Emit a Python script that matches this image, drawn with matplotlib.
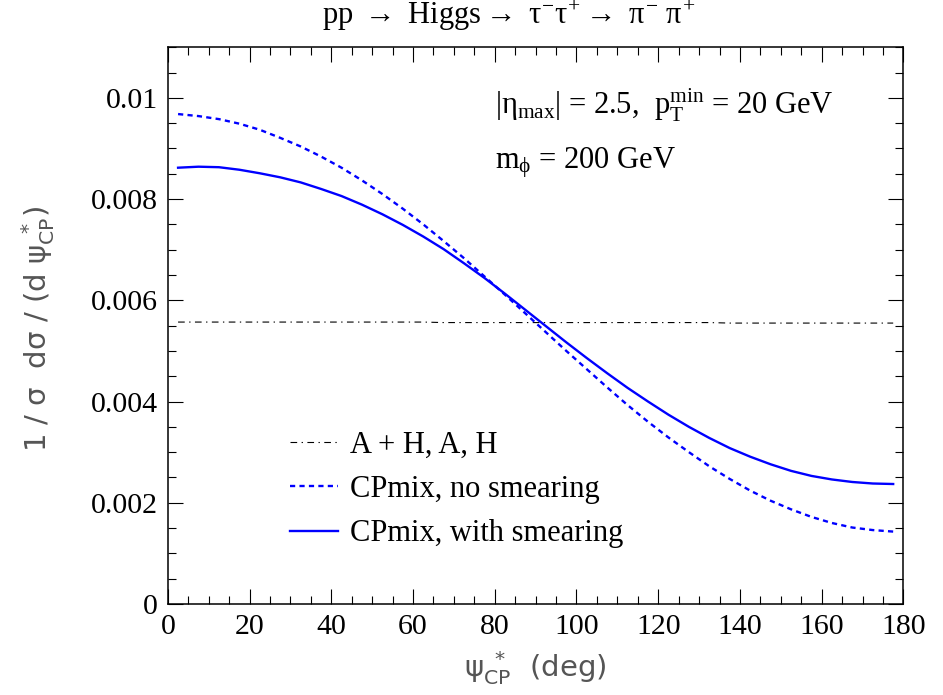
import numpy as np
import matplotlib
matplotlib.use("Agg")
import matplotlib.pyplot as plt
from matplotlib.ticker import MultipleLocator, FixedLocator

plt.rcParams["font.family"] = ["Liberation Serif", "DejaVu Serif"]
plt.rcParams["mathtext.fontset"] = "custom"
plt.rcParams["mathtext.rm"] = "Liberation Serif"
plt.rcParams["mathtext.it"] = "Liberation Serif"
plt.rcParams["mathtext.bf"] = "Liberation Serif:bold"
plt.rcParams["mathtext.fallback"] = "stix"

# bin centres (deg)
psi = [2.5, 7.5, 12.5, 17.5, 22.5, 27.5, 32.5, 37.5, 42.5, 47.5, 52.5, 57.5,
       62.5, 67.5, 72.5, 77.5, 82.5, 87.5, 92.5, 97.5, 102.5, 107.5, 112.5, 117.5,
       122.5, 127.5, 132.5, 137.5, 142.5, 147.5, 152.5, 157.5, 162.5, 167.5, 172.5, 177.5]

flat_AH = [0.00557, 0.00557, 0.00557, 0.00557, 0.00557, 0.00557, 0.00557, 0.00557,
           0.00557, 0.00557, 0.00557, 0.00557, 0.00557, 0.00556, 0.00556, 0.00556,
           0.00556, 0.00556, 0.00556, 0.00556, 0.00556, 0.00556, 0.00556, 0.00556,
           0.00556, 0.00556, 0.00556, 0.00555, 0.00555, 0.00555, 0.00555, 0.00555,
           0.00555, 0.00555, 0.00555, 0.00555]

cpmix_nosmear = [0.00968, 0.00964, 0.00958, 0.00949, 0.00937, 0.00921, 0.00904, 0.00884,
                 0.00862, 0.00837, 0.00810, 0.00781, 0.00750, 0.00717, 0.00683, 0.00647,
                 0.00611, 0.00574, 0.00537, 0.00500, 0.00464, 0.00428, 0.00393, 0.00360,
                 0.00329, 0.00300, 0.00272, 0.00247, 0.00224, 0.00204, 0.00187, 0.00172,
                 0.00160, 0.00151, 0.00146, 0.00143]

cpmix_smear = [0.00862, 0.00864, 0.00863, 0.00858, 0.00851, 0.00843, 0.00833, 0.00820,
               0.00806, 0.00789, 0.00770, 0.00749, 0.00726, 0.00701, 0.00673, 0.00644,
               0.00613, 0.00581, 0.00549, 0.00517, 0.00486, 0.00456, 0.00427, 0.00400,
               0.00374, 0.00350, 0.00328, 0.00308, 0.00291, 0.00276, 0.00263, 0.00253,
               0.00246, 0.00241, 0.00238, 0.00237]

fig = plt.figure(figsize=(9.43, 6.95), dpi=100)
ax = fig.add_axes([0.178, 0.131, 0.780, 0.801])

ax.plot(psi, flat_AH, color="black", lw=0.8, linestyle=(0, (6, 4, 1.2, 4)),
        label="A + H, A, H")
ax.plot(psi, cpmix_nosmear, color="#0000ff", lw=1.7, linestyle=(0, (2.2, 1.8)),
        label="CPmix, no smearing")
ax.plot(psi, cpmix_smear, color="#0000ff", lw=1.7, label="CPmix, with smearing")

ax.set_xlim(0, 180)
ax.set_ylim(0, 0.011)
ax.xaxis.set_major_locator(MultipleLocator(20))
ax.xaxis.set_minor_locator(MultipleLocator(5))
yt = [0, 0.002, 0.004, 0.006, 0.008, 0.01]
ax.yaxis.set_major_locator(FixedLocator(yt))
ax.set_yticklabels(["0", "0.002", "0.004", "0.006", "0.008", "0.01"])
ax.yaxis.set_minor_locator(MultipleLocator(0.0005))
ax.tick_params(which="both", direction="in", top=True, right=True, width=0.8,
               labelsize=21.5, pad=7)
ax.tick_params(which="major", length=11)
ax.tick_params(which="minor", length=5.5)
for s in ax.spines.values():
    s.set_linewidth(1.1)

ax.set_ylabel(r"1 / σ  dσ / (d ψ$_{\rm CP}^{\ *}$)", fontfamily="DejaVu Sans",
              math_fontfamily="dejavusans", fontsize=21, color="#555555")
ax.yaxis.set_label_coords(-0.151, 0.494)
ax.set_xlabel(r"ψ$_{\rm CP}^{\ *}$  (deg)", fontfamily="DejaVu Sans",
              math_fontfamily="dejavusans", fontsize=21, color="#555555", labelpad=7)

fig.text(0.539, 0.977,
         r"pp $\rightarrow$ Higgs$\rightarrow$ $\tau^{-}\tau^{+}\rightarrow$ $\pi^{-}\ \pi^{+}$",
         ha="center", va="center", fontsize=22)

ax.text(80, 0.00986, r"|$\eta_{\rm max}$| = 2.5,  p$_{\rm T}^{\rm min}$ = 20 GeV",
        fontsize=22, va="center")
ax.text(80, 0.00872, r"m$_{\phi}$ = 200 GeV", fontsize=22, va="center")

ax.legend(loc="upper left", bbox_to_anchor=(0.166, 0.311), frameon=False,
          fontsize=22, handlelength=1.57, handletextpad=0.4, labelspacing=0.5,
          borderpad=0, borderaxespad=0)

fig.savefig("out.png", dpi=100)
